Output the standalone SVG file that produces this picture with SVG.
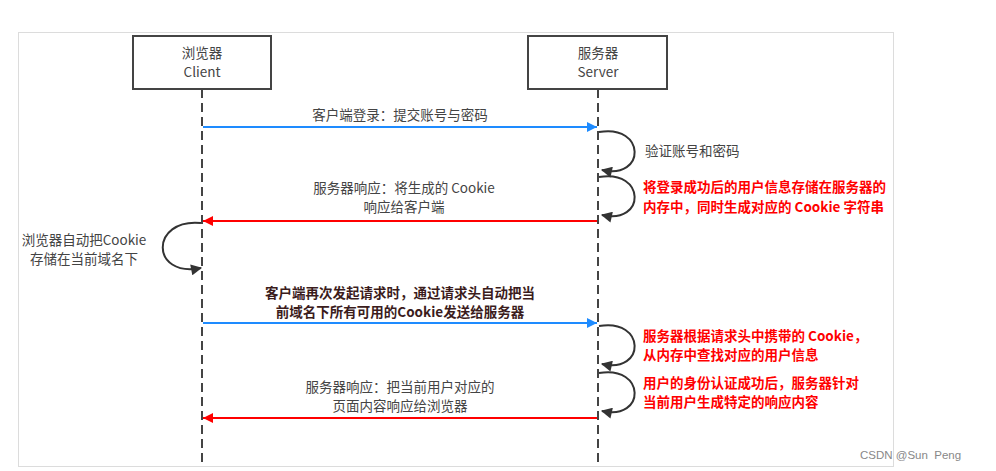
<svg xmlns="http://www.w3.org/2000/svg" width="996" height="471" viewBox="0 0 996 471">
<defs>
<style>
.t{font-family:"Noto Sans CJK SC","Noto Sans",sans-serif;font-size:13.5px;fill:#444}
.r{font-family:"Noto Sans CJK SC","Noto Sans",sans-serif;font-size:13.5px;fill:#ff0000;font-weight:bold}
.b{font-family:"Noto Sans CJK SC","Noto Sans",sans-serif;font-size:13.5px;fill:#3b1c1c;font-weight:bold}
.box{fill:#fff;stroke:#444;stroke-width:2}
.life{stroke:#444;stroke-width:2;stroke-dasharray:9,5;fill:none}
.loop{stroke:#333;stroke-width:2;fill:none;marker-end:url(#ak)}
</style>
<marker id="ab" viewBox="0 0 10 10" refX="10" refY="5" markerWidth="14" markerHeight="10" markerUnits="userSpaceOnUse" orient="auto"><path d="M0,0L10,5L0,10Z" fill="#1e8bff"/></marker>
<marker id="ar" viewBox="0 0 10 10" refX="10" refY="5" markerWidth="14" markerHeight="10" markerUnits="userSpaceOnUse" orient="auto"><path d="M0,0L10,5L0,10Z" fill="#ff0000"/></marker>
<marker id="ak" viewBox="0 0 10 10" refX="9" refY="5" markerWidth="13" markerHeight="11" markerUnits="userSpaceOnUse" orient="auto"><path d="M0,0L10,5L0,10Z" fill="#333"/></marker>
</defs>
<rect x="0" y="0" width="996" height="471" fill="#fff"/>
<rect x="18.5" y="32.5" width="875" height="434" fill="none" stroke="#dcdcdc" stroke-width="1"/>
<g id="connectors">
<line class="life" x1="202" y1="89" x2="202" y2="463"/>
<line class="life" x1="598" y1="89" x2="598" y2="463"/>
<line x1="203" y1="127" x2="597" y2="127" stroke="#1e8bff" stroke-width="2" marker-end="url(#ab)"/>
<path class="loop" d="M599,132 C646,124 646,180 602,170"/>
<path class="loop" d="M599,177 C646,169 646,225 602,215"/>
<line x1="597" y1="221" x2="203" y2="221" stroke="#ff0000" stroke-width="2" marker-end="url(#ar)"/>
<path class="loop" d="M201,223 C150,218 150,278 201,268"/>
<line x1="203" y1="323" x2="597" y2="323" stroke="#1e8bff" stroke-width="2" marker-end="url(#ab)"/>
<path class="loop" d="M599,326 C646,318 646,374 602,364"/>
<path class="loop" d="M599,373 C646,365 646,421 602,411"/>
<line x1="597" y1="418" x2="203" y2="418" stroke="#ff0000" stroke-width="2" marker-end="url(#ar)"/>
</g>
<g id="client">
<rect class="box" x="133" y="36" width="138" height="53"/>
<text class="t" x="202" y="58" text-anchor="middle" font-size="14">浏览器</text>
<text class="t" x="202" y="77" text-anchor="middle" font-size="14">Client</text>
</g>
<g id="server">
<rect class="box" x="528" y="36" width="139" height="53"/>
<text class="t" x="598" y="58" text-anchor="middle" font-size="14">服务器</text>
<text class="t" x="598" y="77" text-anchor="middle" font-size="14">Server</text>
</g>
<g id="labels">
<text class="t" x="400" y="120" text-anchor="middle">客户端登录：提交账号与密码</text>
<text class="t" x="645" y="156">验证账号和密码</text>
<text class="r" x="643" y="192">将登录成功后的用户信息存储在服务器的</text>
<text class="r" x="643" y="212">内存中，同时生成对应的 Cookie 字符串</text>
<text class="t" x="404" y="193" text-anchor="middle">服务器响应：将生成的 Cookie</text>
<text class="t" x="404" y="212" text-anchor="middle">响应给客户端</text>
<text class="t" x="84" y="245" text-anchor="middle">浏览器自动把Cookie</text>
<text class="t" x="84" y="264" text-anchor="middle">存储在当前域名下</text>
<text class="b" x="400" y="298" text-anchor="middle">客户端再次发起请求时，通过请求头自动把当</text>
<text class="b" x="400" y="317" text-anchor="middle">前域名下所有可用的Cookie发送给服务器</text>
<text class="r" x="643" y="341">服务器根据请求头中携带的 Cookie，</text>
<text class="r" x="643" y="360">从内存中查找对应的用户信息</text>
<text class="r" x="643" y="388">用户的身份认证成功后，服务器针对</text>
<text class="r" x="643" y="407">当前用户生成特定的响应内容</text>
<text class="t" x="400" y="392" text-anchor="middle">服务器响应：把当前用户对应的</text>
<text class="t" x="400" y="411" text-anchor="middle">页面内容响应给浏览器</text>
<text x="860" y="459" font-family="Liberation Sans,sans-serif" font-size="11.5" fill="#888">CSDN @Sun&#160; Peng</text>
</g>
</svg>
